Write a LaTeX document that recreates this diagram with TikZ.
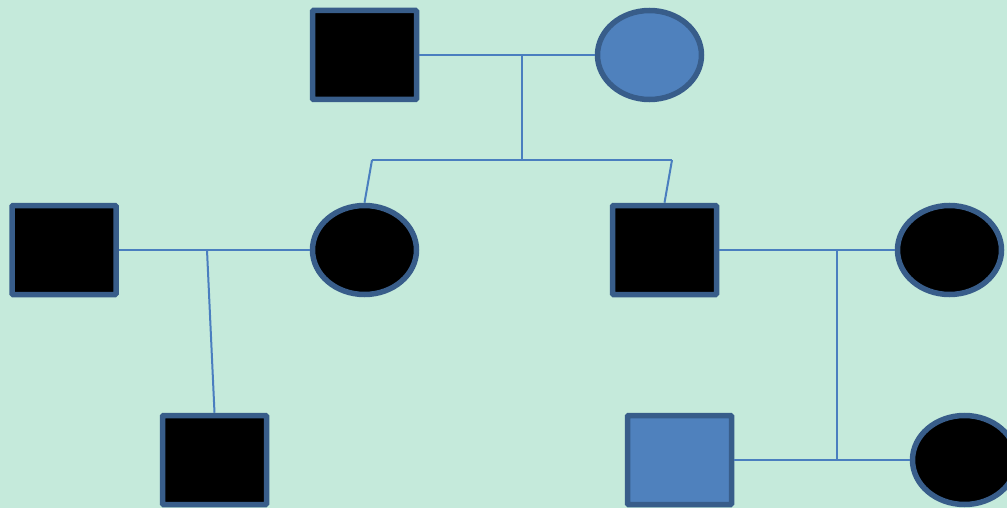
\documentclass[tikz,border=0pt]{standalone}
\usetikzlibrary{shapes.geometric}
\definecolor{bgc}{RGB}{197,234,219}
\definecolor{edgec}{RGB}{56,93,138}
\definecolor{fillb}{RGB}{79,129,189}
\definecolor{linec}{RGB}{74,126,191}
\tikzset{
  male/.style={rectangle, draw=edgec, line width=5.5pt, minimum width=104pt, minimum height=89pt, inner sep=0pt, rounded corners=1pt},
  female/.style={ellipse, draw=edgec, line width=5.5pt, minimum width=104pt, minimum height=89pt, inner sep=0pt},
  aff/.style={fill=black},
  unaff/.style={fill=fillb},
  rel/.style={draw=linec, line width=2pt}
}
\begin{document}
\begin{tikzpicture}[x=1pt,y=-1pt]
\useasboundingbox (0,0) rectangle (1007,508);
\fill[bgc] (0,0) rectangle (1007,508);
\clip (0,0) rectangle (1007,508);
% generation I
\node[male, aff] (gf) at (364.5,55) {};
\node[female, unaff] (gm) at (649.5,55) {};
% generation II
\node[male, aff] (h1) at (64,250) {};
\node[female, aff] (d1) at (364.5,250) {};
\node[male, aff] (s1) at (664.5,250) {};
\node[female, aff] (w1) at (949.5,250) {};
% generation III
\node[male, aff] (c1) at (214.5,460) {};
\node[male, unaff] (c2) at (679.5,460) {};
\node[female, aff] (c3) at (964.5,460) {};
% coordinates
\coordinate (m1) at (521.5,55);
\coordinate (m1b) at (521.5,160);
\coordinate (sl) at (372,160);
\coordinate (sr) at (672,160);
\coordinate (m2) at (207,250);
\coordinate (m3) at (837,250);
\coordinate (m3b) at (837,460);
% connectors
\draw[rel] (gf.east) -- (gm.west);
\draw[rel] (m1) -- (m1b);
\draw[rel] (sl) -- (sr);
\draw[rel] (sl) -- (d1.north);
\draw[rel] (sr) -- (s1.north);
\draw[rel] (h1.east) -- (d1.west);
\draw[rel] (m2) -- (c1.north);
\draw[rel] (s1.east) -- (w1.west);
\draw[rel] (m3) -- (m3b);
\draw[rel] (c2.east) -- (c3.west);
\end{tikzpicture}
\end{document}
